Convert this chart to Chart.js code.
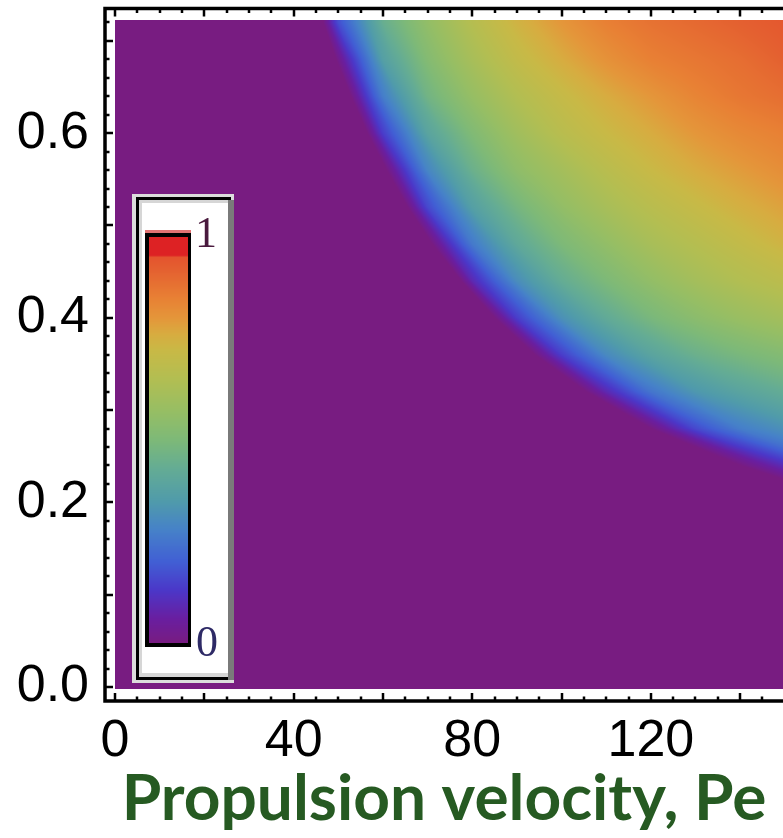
<!DOCTYPE html>
<html><head><meta charset="utf-8">
<script src="https://cdn.jsdelivr.net/npm/chart.js@4.4.1/dist/chart.umd.min.js"></script>
<style>html,body{margin:0;padding:0;background:#fff;overflow:hidden}canvas{display:block}</style>
</head><body><canvas id="c" width="783" height="838"></canvas>
<script>
// ---- data ----
const peValues = [0,10,20,30,40,50,60,70,80,90,100,110,120,130,140,150];
const yValues = [0.72,0.68,0.64,0.60,0.56,0.52,0.48,0.44,0.40,0.36,0.32,0.28,0.24,0.20,0.16,0.12,0.08,0.04,0.00];
// Pe at which each row leaves 0 (purple edge); >150 means outside the visible range
const edgeX = [46.6,49.5,52.8,56.5,60.8,65.5,71,77.5,85,94,105.5,120,139.5,165,200,200,200,200,200];
const densityRows = [
  [0,0,0,0,0,0.17,0.44,0.56,0.66,0.74,0.80,0.85,0.88,0.90,0.92,0.94],
  [0,0,0,0,0,0.02,0.37,0.52,0.62,0.70,0.76,0.81,0.85,0.87,0.89,0.92],
  [0,0,0,0,0,0,0.27,0.47,0.57,0.65,0.71,0.76,0.80,0.84,0.87,0.89],
  [0,0,0,0,0,0,0.14,0.39,0.51,0.60,0.67,0.72,0.76,0.80,0.83,0.85],
  [0,0,0,0,0,0,0,0.29,0.45,0.55,0.61,0.67,0.72,0.76,0.79,0.82],
  [0,0,0,0,0,0,0,0.16,0.37,0.48,0.56,0.62,0.67,0.71,0.75,0.78],
  [0,0,0,0,0,0,0,0,0.26,0.41,0.50,0.56,0.62,0.66,0.70,0.74],
  [0,0,0,0,0,0,0,0,0.09,0.31,0.43,0.50,0.56,0.61,0.65,0.68],
  [0,0,0,0,0,0,0,0,0,0.14,0.32,0.42,0.49,0.54,0.58,0.61],
  [0,0,0,0,0,0,0,0,0,0,0.14,0.30,0.39,0.45,0.49,0.52],
  [0,0,0,0,0,0,0,0,0,0,0,0.09,0.25,0.34,0.39,0.43],
  [0,0,0,0,0,0,0,0,0,0,0,0,0,0.16,0.27,0.32],
  [0,0,0,0,0,0,0,0,0,0,0,0,0,0,0,0.10],
  [0,0,0,0,0,0,0,0,0,0,0,0,0,0,0,0],
  [0,0,0,0,0,0,0,0,0,0,0,0,0,0,0,0],
  [0,0,0,0,0,0,0,0,0,0,0,0,0,0,0,0],
  [0,0,0,0,0,0,0,0,0,0,0,0,0,0,0,0],
  [0,0,0,0,0,0,0,0,0,0,0,0,0,0,0,0],
  [0,0,0,0,0,0,0,0,0,0,0,0,0,0,0,0]
];
const xTickValues = [0,40,80,120];
const xTickLabels = ['0','40','80','120'];
const yTickValues = [0,0.2,0.4,0.6];
const yTickLabels = ['0.0','0.2','0.4','0.6'];
const colorbarLabels = ['1','0'];
const xTitle = 'Propulsion velocity, Pe';

// ---- colour map (Mathematica-like "Rainbow") ----
const cmapStops = [
  [0.00,120,28,129],[0.06,105,30,160],[0.13,75,55,200],[0.20,65,95,212],
  [0.28,70,130,200],[0.35,80,155,170],[0.43,100,172,148],[0.50,125,185,120],
  [0.57,150,190,100],[0.65,178,190,82],[0.72,200,185,70],[0.76,215,172,64],
  [0.80,228,150,58],[0.85,232,128,52],[0.92,228,96,48],[0.95,228,84,46],
  [0.955,221,34,36],[1.00,221,34,36]
];
function cmap(v){
  v = Math.max(0, Math.min(1, v));
  for (let k = 1; k < cmapStops.length; k++) {
    if (v <= cmapStops[k][0]) {
      const a = cmapStops[k-1], b = cmapStops[k];
      const t = (v - a[0]) / ((b[0] - a[0]) || 1);
      return [a[1]+(b[1]-a[1])*t, a[2]+(b[2]-a[2])*t, a[3]+(b[3]-a[3])*t];
    }
  }
  const l = cmapStops[cmapStops.length-1];
  return [l[1], l[2], l[3]];
}
const clamp01 = t => Math.max(0, Math.min(1, t));

// profile of one row as a function of distance u beyond its edge
const rowPts = densityRows.map((row, j) => {
  const pts = [[0, 0]];
  row.forEach((v, i) => { if (peValues[i] > edgeX[j]) pts.push([peValues[i] - edgeX[j], v]); });
  return pts;
});
function profile(j, u) {
  let pts = rowPts[j];
  let jj = j;
  while (pts.length < 2 && jj > 0) { jj--; pts = rowPts[jj]; }
  if (u <= 0 || pts.length < 2) return 0;
  for (let k = 1; k < pts.length; k++) {
    if (u <= pts[k][0]) {
      const a = pts[k-1], b = pts[k];
      return a[1] + (b[1]-a[1]) * (u - a[0]) / (b[0] - a[0]);
    }
  }
  const a = pts[pts.length-2], b = pts[pts.length-1];
  return Math.min(1, b[1] + (b[1]-a[1]) * (u - b[0]) / (b[0] - a[0]));
}

const densityPlugin = {
  id: 'density',
  beforeDatasetsDraw(chart) {
    const {ctx, chartArea: ca, scales: {x, y}} = chart;
    const L = Math.round(x.getPixelForValue(peValues[0]));
    const R = Math.min(Math.round(x.getPixelForValue(peValues[peValues.length-1])), Math.round(ca.right));
    const T = Math.round(y.getPixelForValue(yValues[0])) - 2;
    const B = Math.round(y.getPixelForValue(yValues[yValues.length-1])) + 2;
    const w = R - L, h = B - T;
    const off = document.createElement('canvas');
    off.width = w; off.height = h;
    const octx = off.getContext('2d');
    const img = octx.createImageData(w, h);
    for (let r = 0; r < h; r++) {
      const yv = y.getValueForPixel(T + r + 0.5);
      let j = 0;
      while (j < yValues.length - 2 && yv < yValues[j+1]) j++;
      const ty = clamp01((yValues[j] - yv) / (yValues[j] - yValues[j+1]));
      const e = edgeX[j] * (1 - ty) + edgeX[j+1] * ty;
      for (let c = 0; c < w; c++) {
        const xv = x.getValueForPixel(L + c + 0.5);
        const u = xv - e;
        let v = 0;
        if (u > 0) v = (1 - ty) * profile(j, u) + ty * profile(j+1, u);
        const col = cmap(v);
        const p = (r*w + c)*4;
        img.data[p] = col[0]; img.data[p+1] = col[1]; img.data[p+2] = col[2]; img.data[p+3] = 255;
      }
    }
    octx.putImageData(img, 0, 0);
    ctx.drawImage(off, L, T);
  },
  afterDatasetsDraw(chart) {
    const {ctx, chartArea: ca, scales: {x, y}} = chart;
    ctx.save();
    // frame
    ctx.strokeStyle = '#000';
    ctx.lineWidth = 3.5;
    ctx.beginPath();
    ctx.moveTo(ca.right + 5, ca.top); ctx.lineTo(ca.left, ca.top);
    ctx.lineTo(ca.left, ca.bottom); ctx.lineTo(ca.right + 5, ca.bottom);
    ctx.stroke();
    // ticks
    ctx.lineWidth = 2.5;
    ctx.beginPath();
    for (let v = 0; v <= 150; v += 5) {
      const px = Math.round(x.getPixelForValue(v));
      if (px > ca.right) break;
      const len = (v % 20 === 0) ? 8 : 4.5;
      ctx.moveTo(px, ca.top); ctx.lineTo(px, ca.top + len);
      ctx.moveTo(px, ca.bottom); ctx.lineTo(px, ca.bottom - len);
    }
    for (let k = 0; k <= 36; k++) {
      const v = k * 0.02;
      const py = Math.round(y.getPixelForValue(v));
      const len = (k % 5 === 0) ? 8 : 4.5;
      ctx.moveTo(ca.left, py); ctx.lineTo(ca.left + len, py);
    }
    ctx.stroke();

    // inset colour bar legend
    ctx.fillStyle = '#dcdcdc'; ctx.fillRect(132, 194, 102, 489);
    ctx.fillStyle = '#000'; ctx.fillRect(136, 197, 95, 483);
    ctx.fillStyle = '#d6d6d6'; ctx.fillRect(139, 200, 89, 477);
    ctx.fillStyle = '#fff'; ctx.fillRect(142, 203, 86, 470);
    ctx.fillStyle = '#7a7a7a'; ctx.fillRect(228, 200, 6, 480);
    ctx.fillStyle = '#e27272'; ctx.fillRect(145, 230, 46, 3);
    ctx.fillStyle = '#000'; ctx.fillRect(145, 233, 46, 414);
    const by0 = 237, by1 = 643;
    for (let py = by0; py < by1; py++) {
      const v = (by1 - (py + 0.5)) / (by1 - by0);
      const col = cmap(v);
      ctx.fillStyle = 'rgb(' + col.map(Math.round).join(',') + ')';
      ctx.fillRect(149, py, 39, 1);
    }
    ctx.font = '44px "Liberation Serif"';
    ctx.textAlign = 'center';
    ctx.textBaseline = 'alphabetic';
    ctx.fillStyle = '#4a1a3e';
    ctx.fillText(colorbarLabels[0], 206, 247);
    ctx.fillStyle = '#2e2a66';
    ctx.fillText(colorbarLabels[1], 207, 656);
    ctx.restore();
  }
};

const mctx = document.createElement('canvas').getContext('2d');
mctx.font = 'bold 100px Lato';
const titleSize = Math.round(100 * 647 / mctx.measureText(xTitle).width);

new Chart(document.getElementById('c'), {
  type: 'scatter',
  data: { datasets: [{ data: [], pointRadius: 0 }] },
  options: {
    responsive: false,
    animation: false,
    events: [],
    layout: { padding: { top: 8.5, left: 0, right: 0, bottom: 0 } },
    plugins: { legend: { display: false }, tooltip: { enabled: false } },
    scales: {
      x: {
        type: 'linear', min: -2.25, max: 149.6,
        grid: { display: false, drawTicks: false }, border: { display: false },
        afterBuildTicks: s => { s.ticks = xTickValues.map(v => ({ value: v })); },
        afterFit: s => { s.height = 137; s.paddingLeft = 0; s.paddingRight = 0; },
        ticks: {
          callback: (v, i) => xTickLabels[i], autoSkip: false, maxRotation: 0,
          font: { family: 'Liberation Sans', size: 52 }, color: '#000', padding: 9
        },
        title: {
          display: true, text: xTitle, color: '#265a22',
          font: { family: 'Lato', weight: 'bold', size: titleSize, lineHeight: 1.2 },
          padding: { top: 0, bottom: 0 }
        }
      },
      y: {
        type: 'linear', min: -0.0152, max: 0.7351,
        grid: { display: false, drawTicks: false }, border: { display: false },
        afterBuildTicks: s => { s.ticks = yTickValues.map(v => ({ value: v })); },
        afterFit: s => { s.width = 105; s.paddingTop = 0; s.paddingBottom = 0; },
        ticks: {
          callback: (v, i) => yTickLabels[i],
          font: { family: 'Liberation Sans', size: 52 }, color: '#000', padding: 16
        }
      }
    }
  },
  plugins: [densityPlugin]
});
</script>
</body></html>
